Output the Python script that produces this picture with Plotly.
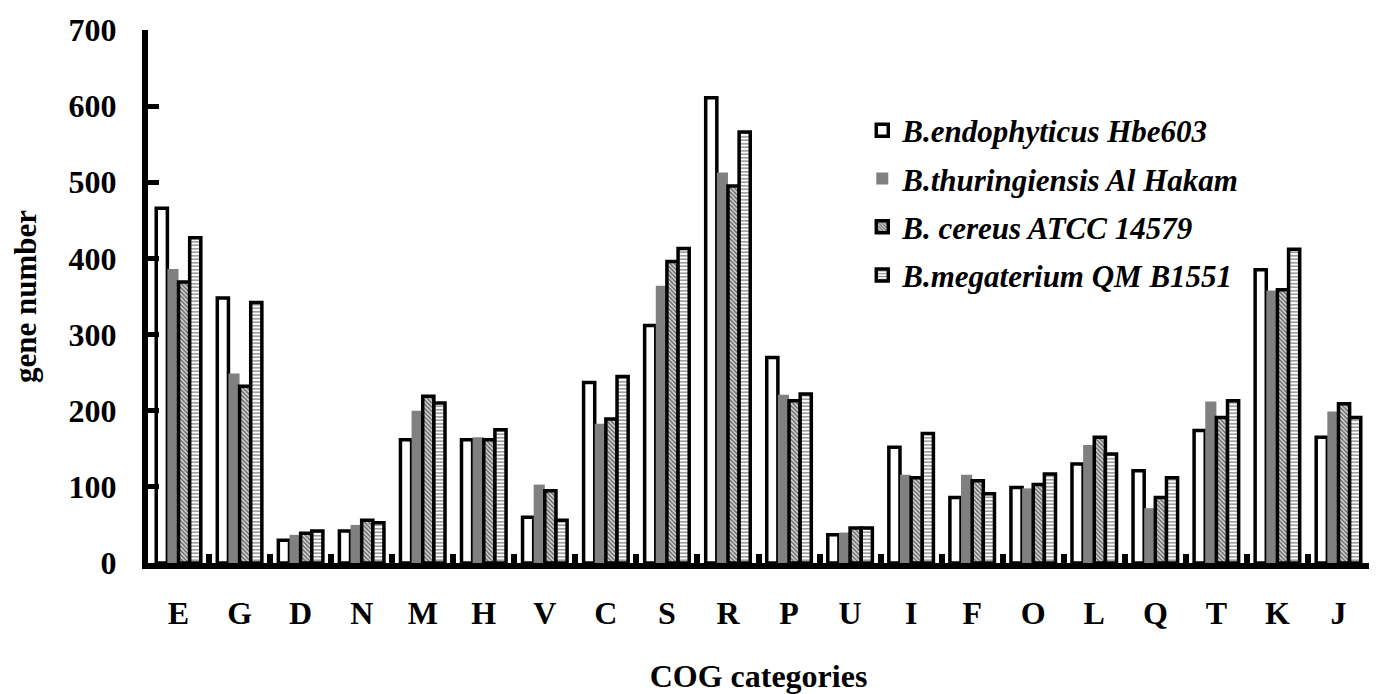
import plotly.graph_objects as go

categories = ["E", "G", "D", "N", "M", "H", "V", "C", "S", "R",
              "P", "U", "I", "F", "O", "L", "Q", "T", "K", "J"]

series_names = ["B.endophyticus Hbe603", "B.thuringiensis Al Hakam",
                "B. cereus ATCC 14579", "B.megaterium QM B1551"]

endophyticus = [466, 348, 30, 42, 162, 162, 60, 237, 312, 611,
                270, 37, 152, 86, 99, 130, 121, 174, 385, 165]
thuringiensis = [386, 249, 37, 50, 200, 165, 103, 183, 364, 513,
                 221, 40, 116, 116, 98, 155, 72, 212, 358, 199]
cereus = [369, 232, 39, 56, 219, 162, 95, 189, 396, 495,
          213, 46, 112, 108, 103, 165, 86, 191, 359, 209]
megaterium = [427, 342, 42, 53, 210, 175, 56, 245, 413, 566,
              222, 46, 170, 91, 117, 143, 112, 213, 412, 191]

y_ticks = [0, 100, 200, 300, 400, 500, 600, 700]

FONT = "Liberation Serif"

fig = go.Figure()

fig.add_trace(go.Bar(
    name=series_names[0], x=categories, y=endophyticus, legendgroup="a",
    marker=dict(color="white", line=dict(color="black", width=3.5)),
))
fig.add_trace(go.Bar(
    name=series_names[1], x=categories, y=thuringiensis, legendgroup="b",
    marker=dict(color="#808080", line=dict(color="#808080", width=0)),
))
fig.add_trace(go.Bar(
    name=series_names[2], x=categories, y=cereus, legendgroup="c",
    marker=dict(color="white", line=dict(color="black", width=3.5),
                pattern=dict(shape="\\", size=3, solidity=0.55,
                             fgcolor="black", bgcolor="#dddddd")),
))
fig.add_trace(go.Bar(
    name=series_names[3], x=categories, y=megaterium, legendgroup="d",
    marker=dict(color="white", line=dict(color="black", width=3.5),
                pattern=dict(shape="-", size=3.5, solidity=0.4,
                             fgcolor="#111111", bgcolor="white")),
))

fig.update_layout(
    width=1369, height=686,
    margin=dict(l=140, r=8, t=22, b=131),
    paper_bgcolor="white", plot_bgcolor="white",
    barmode="group", bargap=0.27, bargroupgap=0,
    font=dict(family=FONT, size=32, color="black", weight="bold"),
    showlegend=True,
    legend=dict(
        x=0.585, xanchor="left", y=0.862, yanchor="top",
        bgcolor="rgba(0,0,0,0)", borderwidth=0,
        font=dict(family=FONT, size=31, color="black", weight="bold", style="italic"),
        tracegroupgap=5, traceorder="grouped",
    ),
    xaxis=dict(
        type="category", categoryorder="array", categoryarray=categories,
        automargin=False,
        showline=True, linecolor="black", linewidth=6,
        ticks="inside", tickson="boundaries", ticklen=9, tickwidth=6, tickcolor="black",
        ticklabelstandoff=17,
        tickfont=dict(family=FONT, size=32, weight="bold"),
        showgrid=False, zeroline=False,
        title=dict(text="COG categories", standoff=50,
                   font=dict(family=FONT, size=32, weight="bold")),
    ),
    yaxis=dict(
        range=[0, 700], tickvals=y_ticks, ticktext=[str(v) for v in y_ticks],
        automargin=False,
        showline=True, linecolor="black", linewidth=6,
        ticks="inside", ticklen=11, tickwidth=5, tickcolor="black",
        ticklabelstandoff=19,
        tickfont=dict(family=FONT, size=32, weight="bold"),
        showgrid=False, zeroline=False,
        title=dict(text="gene number", standoff=36,
                   font=dict(family=FONT, size=31, weight="bold")),
    ),
)

fig.write_html("out.html")
